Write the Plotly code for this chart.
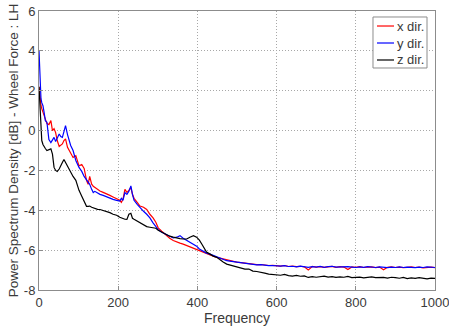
import plotly.graph_objects as go

# Frequency grid (Hz) for the low/mid band
freq_low = [0, 3, 5, 7, 10, 13, 16, 20, 25, 30, 34, 38, 42, 46, 51, 55, 59, 63, 67, 72,
            76, 80, 86, 93, 101, 108, 114, 120, 124, 128, 133, 137, 141, 148, 154, 162,
            171, 179, 187, 196, 204, 208, 212, 217, 222, 227, 232, 236, 240, 248, 255,
            264, 272, 280, 288, 295, 301, 310, 320, 330, 339, 348, 356, 364, 373, 381,
            390, 398, 405, 411, 417, 423, 432, 440, 449, 457, 465, 474, 482, 491, 499]

x_low = [2.2, 1.5, 1.26, 1.1, 0.95, 0.8, 0.6, 0.35, 0.3, 0.5, 0.0, 0.1, -0.1, -0.5, -0.8,
         -0.75, -0.67, -0.5, -0.42, -0.84, -1.0, -1.18, -1.35, -1.26, -1.77, -1.7, -1.9,
         -2.5, -2.7, -2.3, -2.69, -2.8, -2.86, -2.95, -3.03, -3.1, -3.2, -3.25, -3.33,
         -3.4, -3.5, -3.6, -3.45, -2.95, -3.1, -3.0, -2.86, -3.2, -3.4, -3.6, -3.79,
         -3.85, -3.96, -4.2, -4.38, -4.6, -4.88, -5.05, -5.25, -5.4, -5.52, -5.6, -5.65,
         -5.7, -5.77, -5.85, -5.92, -6.0, -6.05, -6.1, -6.15, -6.2, -6.27, -6.3, -6.36,
         -6.4, -6.44, -6.5, -6.55, -6.58, -6.6]

y_low = [4.0, 2.2, 1.6, 1.4, 1.25, 0.9, 0.5, 0.42, -0.45, -0.6, -0.5, -0.34, -0.55, -0.4,
         -0.17, -0.3, -0.34, -0.05, 0.25, -0.2, -0.5, -0.75, -1.0, -1.5, -1.85, -2.05,
         -2.3, -2.5, -2.6, -2.7, -2.95, -3.11, -3.05, -3.15, -3.2, -3.25, -3.33, -3.38,
         -3.45, -3.5, -3.54, -3.4, -3.5, -3.11, -3.2, -3.05, -2.78, -3.2, -3.5, -3.7,
         -3.87, -4.05, -4.2, -4.38, -4.63, -4.8, -4.97, -5.1, -5.2, -5.3, -5.39, -5.35,
         -5.27, -5.4, -5.5, -5.6, -5.7, -5.8, -5.94, -6.0, -6.1, -6.15, -6.2, -6.27,
         -6.35, -6.4, -6.45, -6.53, -6.55, -6.58, -6.6]

z_low = [2.2, 1.2, 0.3, -0.5, -0.7, -0.84, -0.9, -1.0, -0.95, -0.92, -1.18, -1.85, -2.0,
         -2.05, -1.93, -1.8, -1.6, -1.45, -1.6, -1.77, -1.95, -2.1, -2.3, -2.5, -3.0,
         -3.3, -3.55, -3.8, -3.8, -3.79, -3.85, -3.88, -3.9, -3.95, -3.96, -4.0, -4.05,
         -4.12, -4.2, -4.25, -4.35, -4.38, -4.45, -4.45, -4.46, -4.2, -4.15, -4.4, -4.45,
         -4.55, -4.63, -4.75, -4.82, -4.85, -4.88, -4.9, -5.0, -5.1, -5.2, -5.3, -5.35,
         -5.4, -5.42, -5.44, -5.44, -5.35, -5.27, -5.35, -5.5, -5.69, -5.9, -6.1, -6.2,
         -6.3, -6.36, -6.5, -6.6, -6.7, -6.75, -6.78, -6.85]

# High band (Hz), 10 Hz steps
freq_high = [510, 520, 530, 540, 550, 560, 570, 580, 590, 600, 610, 620, 630, 640, 650,
             660, 670, 680, 690, 700, 710, 720, 730, 740, 750, 760, 770, 780, 790, 800,
             810, 820, 830, 840, 850, 860, 870, 880, 890, 900, 910, 920, 930, 940, 950,
             960, 970, 980, 990, 1000]

x_high = [-6.63, -6.66, -6.68, -6.7, -6.73, -6.72, -6.75, -6.77, -6.76, -6.78, -6.8, -6.77,
          -6.82, -6.8, -6.83, -6.81, -6.84, -7.0, -6.82, -6.85, -6.83, -6.86, -6.84, -6.82,
          -6.86, -6.83, -6.85, -6.97, -6.84, -6.86, -6.83, -6.87, -6.85, -6.84, -6.88,
          -6.85, -6.98, -6.86, -6.84, -6.87, -6.85, -6.88, -6.86, -6.84, -6.87, -6.85,
          -6.89, -6.86, -6.85, -6.88]

y_high = [-6.64, -6.67, -6.7, -6.72, -6.74, -6.73, -6.76, -6.78, -6.77, -6.79, -6.8, -6.78,
          -6.82, -6.81, -6.84, -6.8, -6.83, -6.86, -6.83, -6.85, -6.82, -6.86, -6.83,
          -6.81, -6.85, -6.84, -6.86, -6.83, -6.85, -6.87, -6.84, -6.86, -6.83, -6.85,
          -6.87, -6.84, -6.86, -6.88, -6.85, -6.87, -6.84, -6.87, -6.85, -6.86, -6.88,
          -6.85, -6.87, -6.84, -6.86, -6.87]

z_high = [-6.9, -6.95, -6.95, -7.05, -7.07, -7.1, -7.15, -7.2, -7.22, -7.24, -7.26, -7.22,
          -7.28, -7.3, -7.27, -7.31, -7.29, -7.37, -7.33, -7.36, -7.34, -7.3, -7.35, -7.33,
          -7.37, -7.34, -7.36, -7.32, -7.38, -7.37, -7.35, -7.39, -7.36, -7.34, -7.38,
          -7.36, -7.37, -7.4, -7.36, -7.38, -7.41, -7.37, -7.43, -7.39, -7.42, -7.38,
          -7.41, -7.44, -7.4, -7.42]

freq = freq_low + freq_high
series_names = ["x dir.", "y dir.", "z dir."]
series_values = [x_low + x_high, y_low + y_high, z_low + z_high]
series_colors = ["#ff0000", "#0000ff", "#000000"]

y_ticks = [-8, -6, -4, -2, 0, 2, 4, 6]
x_ticks = [0, 200, 400, 600, 800, 1000]

FONT = "Liberation Sans, Arial, Helvetica"
TXT = "#3a3a3a"

fig = go.Figure()
for name, vals, col in zip(series_names, series_values, series_colors):
    fig.add_trace(go.Scatter(x=freq, y=vals, mode="lines", name=name,
                             line=dict(color=col, width=1.2)))

axis_common = dict(showline=True, linecolor="#8c8c8c", linewidth=1, mirror=True,
                   showgrid=True, gridcolor="#a8a8a8", griddash="1px,2px", gridwidth=1,
                   zeroline=False, ticks="inside", ticklen=4, tickcolor="#8c8c8c",
                   automargin=False, ticklabeloverflow="allow",
                   tickfont=dict(family=FONT, size=13, color=TXT))

# Legend box drawn in paper coordinates (MATLAB-style compact legend)
leg_x0, leg_x1, leg_y0, leg_y1 = 0.8434, 0.9798, 0.7957, 0.9785
leg_rows = [0.9462, 0.8853, 0.8244]
shapes = [dict(type="rect", xref="paper", yref="paper", x0=leg_x0, x1=leg_x1,
               y0=leg_y0, y1=leg_y1, line=dict(color="#8c8c8c", width=1),
               fillcolor="white", layer="above")]
annotations = []
for name, col, ry in zip(series_names, series_colors, leg_rows):
    shapes.append(dict(type="line", xref="paper", yref="paper", x0=0.8535, x1=0.8965,
                       y0=ry, y1=ry, line=dict(color=col, width=1.2), layer="above"))
    annotations.append(dict(xref="paper", yref="paper", x=0.8985, y=ry, text=name,
                            showarrow=False, xanchor="left", yanchor="middle",
                            font=dict(family=FONT, size=13, color=TXT)))

fig.update_layout(
    width=449, height=331,
    margin=dict(l=39, r=14, t=11, b=41),
    paper_bgcolor="white", plot_bgcolor="white",
    font=dict(family=FONT, size=13, color=TXT),
    xaxis=dict(range=[0, 1000], tickvals=x_ticks, ticktext=[str(v) for v in x_ticks],
               ticklabelstandoff=0,
               title=dict(text="Frequency", standoff=0,
                          font=dict(family=FONT, size=14, color=TXT)), **axis_common),
    yaxis=dict(range=[-8, 6], tickvals=y_ticks, ticktext=[str(v) for v in y_ticks],
               ticklabelstandoff=0,
               title=dict(text="Power Spectrum Density [dB] - Wheel Force : LH", standoff=2,
                          font=dict(family=FONT, size=13.5, color=TXT)), **axis_common),
    shapes=shapes,
    annotations=annotations,
    showlegend=False,
)

fig.write_html("out.html", config={"displayModeBar": False},
               post_script="document.body.style.margin='0';document.body.style.overflow='hidden';")
